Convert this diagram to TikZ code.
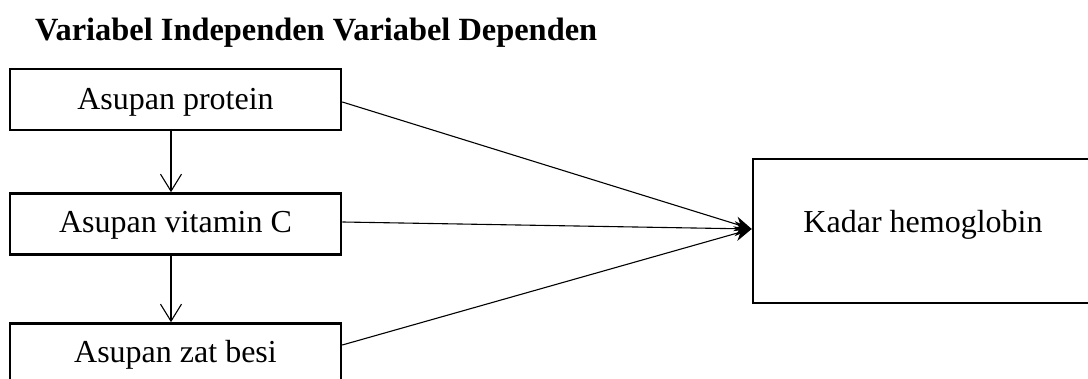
\documentclass[tikz,border=0pt]{standalone}
\usepackage{fontspec}
\setmainfont{Liberation Serif}
\usetikzlibrary{arrows.meta}
\begin{document}
\begin{tikzpicture}[x=1pt,y=1pt,
  box/.style={draw, line width=2.6pt, minimum width=331pt, minimum height=61pt, inner sep=0pt,
    font=\fontsize{32}{38}\selectfont, text height=24pt, text depth=6pt},
  conn/.style={line width=1.1pt},
  down/.style={conn, -{Straight Barb[length=17pt,width=21pt,line width=1.1pt]}},
  into/.style={conn, -{Stealth[length=17pt,width=15pt]}}]
\useasboundingbox (0,0) rectangle (1088,379);
\clip (0,0) rectangle (1088,379);
\node[anchor=base west, font=\fontsize{32.4}{38}\selectfont\bfseries, inner sep=0pt] (title) at (35,338) {Variabel Independen Variabel Dependen};
\node[box, text height=25pt, text depth=4pt] (p1) at (175.5,279.5) {Asupan protein};
\node[box] (p2) at (175.5,155) {Asupan vitamin C};
\node[box] (p3) at (175.5,25) {Asupan zat besi};
\node[box, minimum width=340pt, minimum height=144pt, text height=22pt, text depth=18pt] (k) at (923,148) {Kadar hemoglobin};
\coordinate (hit) at ([yshift=2pt]k.west);
\draw[down] ([xshift=-4.5pt]p1.south) -- ([xshift=-4.5pt]p2.north);
\draw[down] ([xshift=-4.5pt]p2.south) -- ([xshift=-4.5pt]p3.north);
\draw[into] ([yshift=-2.5pt]p1.east) -- (hit);
\draw[into] ([yshift=2pt]p2.east) -- (hit);
\draw[into] ([yshift=9pt]p3.east) -- (hit);
\end{tikzpicture}
\end{document}
